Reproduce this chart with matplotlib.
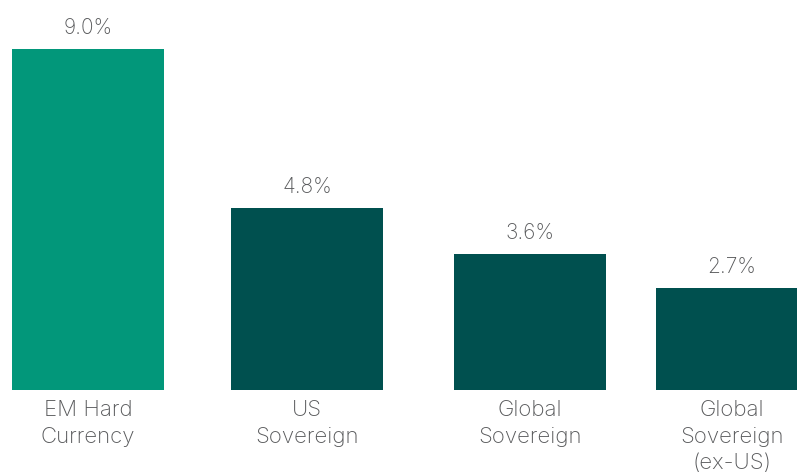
import matplotlib
matplotlib.use("Agg")
import matplotlib.pyplot as plt

categories = ["EM Hard\nCurrency", "US\nSovereign", "Global\nSovereign", "Global\nSovereign\n(ex-US)"]
values = [9.0, 4.8, 3.6, 2.7]
value_labels = ["9.0%", "4.8%", "3.6%", "2.7%"]
colors = ["#02977A", "#00504F", "#00504F", "#00504F"]

# bar positions (slightly uneven spacing, as in the original layout)
xpos = [0, 1.0, 2.018, 2.94]

plt.rcParams['font.family'] = ['Inter', 'DejaVu Sans']
text_color = "#58595B"

fig = plt.figure(figsize=(7.97, 4.74), dpi=100)
ax = fig.add_axes([0, 0.177, 1, 0.823])
ax.bar(xpos, values, width=0.694, color=colors)

for x, v, lab in zip(xpos, values, value_labels):
    ax.annotate(lab, (x, v), xytext=(0, 8), textcoords="offset points",
                ha="center", va="bottom", fontsize=15, fontweight="light",
                color=text_color)

ax.set_xlim(-0.402, 3.237)
ax.set_ylim(0, 10.29)
ax.set_xticks(xpos)
ax.set_xticklabels(categories, fontsize=16, fontweight="light",
                   color=text_color, linespacing=1.42)
ax.tick_params(axis="x", length=0, pad=7)
ax.set_yticks([])
for s in ax.spines.values():
    s.set_visible(False)

fig.savefig("out.png", dpi=100)
